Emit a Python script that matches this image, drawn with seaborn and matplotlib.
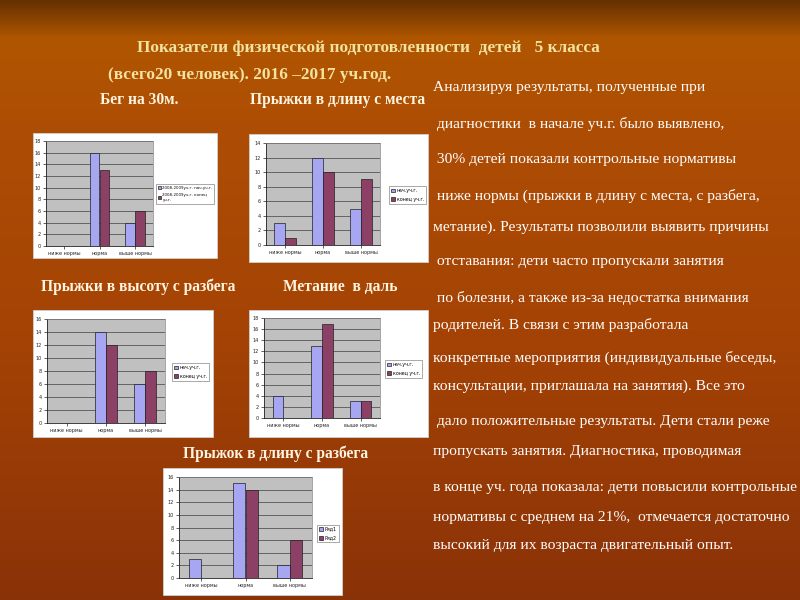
import numpy as np
import pandas as pd
import matplotlib
matplotlib.use('Agg')
from matplotlib import pyplot as plt
from matplotlib.patches import Rectangle
import seaborn as sns

categories = ['ниже нормы', 'норма', 'выше нормы']

run_start = [0, 16, 4]
run_end = [0, 13, 6]
standing_start = [3, 12, 5]
standing_end = [1, 10, 9]
high_start = [0, 14, 6]
high_end = [0, 12, 8]
throw_start = [4, 13, 3]
throw_end = [0, 17, 3]
long_start = [3, 15, 2]
long_end = [0, 14, 6]

labels_run = ['2008-2009уч.г. нач.уч.г.', '2008-2009уч.г. конец\nуч.г.']
labels_year = ['нач.уч.г.', 'конец уч.г.']
labels_rows = ['Ряд1', 'Ряд2']

title_lines = ['Показатели физической подготовленности  детей   5 класса',
               '(всего20 человек). 2016 –2017 уч.год.']

text_lines = [
    'Анализируя результаты, полученные при',
    ' диагностики  в начале уч.г. было выявлено,',
    ' 30% детей показали контрольные нормативы',
    ' ниже нормы (прыжки в длину с места, с разбега,',
    'метание). Результаты позволили выявить причины',
    ' отставания: дети часто пропускали занятия',
    ' по болезни, а также из-за недостатка внимания',
    'родителей. В связи с этим разработала',
    'конкретные мероприятия (индивидуальные беседы,',
    'консультации, приглашала на занятия). Все это',
    ' дало положительные результаты. Дети стали реже',
    'пропускать занятия. Диагностика, проводимая',
    'в конце уч. года показала: дети повысили контрольные',
    'нормативы с среднем на 21%,  отмечается достаточно',
    'высокий для их возраста двигательный опыт.',
]
text_y = [88, 124, 160, 196, 227, 262, 298, 325, 358, 386, 422, 451, 488, 517, 545]

W, H = 800, 600
fig = plt.figure(figsize=(8, 6), dpi=100)

# background gradient
bg = fig.add_axes([0, 0, 1, 1])
ys = np.arange(H)
stops = [0, 38, 120, 350, 600]
cols = np.array([[0x64, 0x30, 0x00], [0xb0, 0x56, 0x00], [0xae, 0x4e, 0x04],
                 [0xa3, 0x42, 0x05], [0x8a, 0x32, 0x08]]) / 255
img = np.stack([np.interp(ys, stops, cols[:, k]) for k in range(3)], axis=1)
img = np.repeat(img[:, None, :], W, axis=1)
bg.imshow(img, extent=[0, W, H, 0], aspect='auto')
bg.set_xlim(0, W)
bg.set_ylim(H, 0)
bg.axis('off')

serif = 'Liberation Serif'
for line, x, y in zip(title_lines, [137, 108], [48, 75]):
    bg.text(x, y, line, color='#f3e2a2', fontsize=12.4, fontweight='bold',
            family=serif, ha='left', va='center')

for line, y in zip(text_lines, text_y):
    bg.text(433, y, line, color='white', fontsize=11.15, family=serif,
            ha='left', va='center')

chart_titles = [('Бег на 30м.', 100, 100), ('Прыжки в длину с места', 250, 100),
                ('Прыжки в высоту с разбега', 41, 287), ('Метание  в даль', 283, 287),
                ('Прыжок в длину с разбега', 183, 454)]
for t, x, y in chart_titles:
    bg.text(x, y, t, color='#fff4e0', fontsize=11.2, fontweight='bold',
            family=serif, ha='left', va='center')


def frac(x0, y0, x1, y1):
    return [x0 / W, 1 - y1 / H, (x1 - x0) / W, (y1 - y0) / H]


def draw_chart(box, plot, leg, start, end, labels, ymax, legsize=3.4):
    bx = frac(*box)
    fig.patches.append(Rectangle((bx[0], bx[1]), bx[2], bx[3], transform=fig.transFigure,
                                 facecolor='white', edgecolor='#d0d0d0', lw=0.6, zorder=1))
    ax = fig.add_axes(frac(*plot), zorder=2)
    ax.set_facecolor('#c0c0c0')
    df = pd.DataFrame({'cat': categories * 2,
                       'val': start + end,
                       'ser': [labels[0]] * 3 + [labels[1]] * 3})
    sns.barplot(data=df, x='cat', y='val', hue='ser', ax=ax,
                palette=['#9999ff', '#993366'], width=0.56,
                edgecolor='#202020', linewidth=0.5, zorder=3)
    ax.set_ylim(0, ymax)
    ax.set_yticks(range(0, ymax + 1, 2))
    ax.set_xlim(-0.5, 2.5)
    ax.yaxis.grid(True, color='#555555', lw=0.6)
    ax.set_axisbelow(True)
    ax.set_xlabel('')
    ax.set_ylabel('')
    ax.tick_params(labelsize=3.5, colors='#222222', length=2, width=0.5, pad=1.5)
    for s in ['top', 'right']:
        ax.spines[s].set_color('#808080')
        ax.spines[s].set_linewidth(0.5)
    for s in ['left', 'bottom']:
        ax.spines[s].set_color('#202020')
        ax.spines[s].set_linewidth(0.6)
    ax.legend_.remove()
    handles, lbls = ax.get_legend_handles_labels()
    lx = frac(*leg)
    fig.legend(handles, lbls, loc='center left',
               bbox_to_anchor=(lx[0], lx[1] + lx[3] / 2),
               fontsize=legsize, frameon=True, fancybox=False, edgecolor='#444444',
               handlelength=0.8, handleheight=0.8, handletextpad=0.4,
               borderpad=0.4, labelspacing=0.8).get_frame().set_linewidth(0.4)


draw_chart((33, 133, 217, 258), (46, 141, 153, 246), (154, 178, 213, 210),
           run_start, run_end, labels_run, 18, legsize=2.9)
draw_chart((249, 134, 428, 262), (266, 143, 380, 245), (387, 185, 425, 205),
           standing_start, standing_end, labels_year, 14)
draw_chart((33, 310, 213, 437), (47, 319, 165, 423), (170, 362, 210, 382),
           high_start, high_end, labels_year, 16)
draw_chart((249, 310, 428, 437), (264, 318, 380, 418), (383, 360, 422, 378),
           throw_start, throw_end, labels_year, 18)
draw_chart((163, 468, 342, 595), (179, 477, 312, 578), (315, 520, 340, 547),
           long_start, long_end, labels_rows, 16)

fig.savefig('out.png', dpi=100)
